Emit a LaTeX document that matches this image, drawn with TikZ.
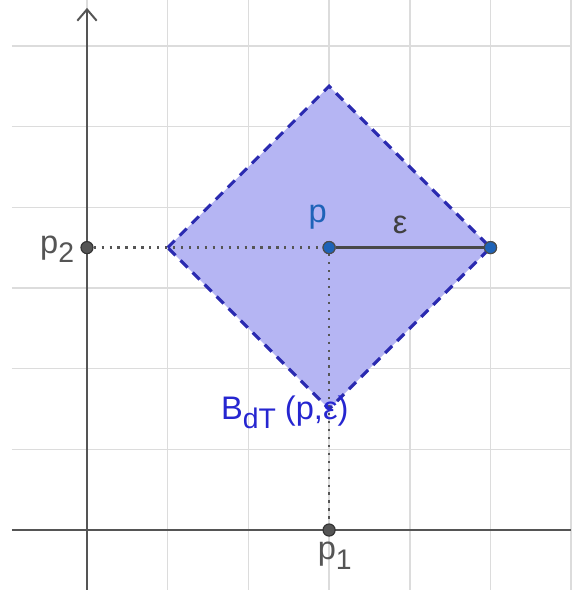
\documentclass[tikz,border=0pt]{standalone}
\usepackage{fontspec}
\setmainfont{Liberation Sans}
\usepackage{xcolor}
\usepackage{tikz}
\usetikzlibrary{arrows.meta}

\definecolor{gridgray}{HTML}{DCDCDC}
\definecolor{axisgray}{HTML}{555555}
\definecolor{ballfill}{HTML}{B5B5F3}
\definecolor{balledge}{HTML}{2A2AB0}
\definecolor{ptblue}{HTML}{1E63B8}
\definecolor{labblue}{HTML}{2626D0}

\newcommand{\lowsub}[1]{\raisebox{-0.55ex}{\fontsize{10}{11}\selectfont #1}}

\begin{document}
\begin{tikzpicture}[
  gridline/.style={gridgray, line width=0.5pt},
  axis/.style={axisgray, line width=0.7pt},
  pt/.style={circle, draw=black!80, fill=axisgray, inner sep=0pt, minimum size=1.5mm},
  bluept/.style={circle, draw=black!70, fill=ptblue, inner sep=0pt, minimum size=1.5mm},
  lab/.style={font=\fontsize{11.5}{13}\selectfont, text=axisgray, inner sep=1pt},
  guide/.style={axisgray, dotted, line width=0.8pt}
]
\useasboundingbox (-1.078,-0.743) rectangle (5.998,6.568);

% grid and axes
\draw[gridline, step=1] (-0.93,-0.743) grid (6.0,6.568);
\draw[axis] (-0.93,0) -- (6.0,0);
\draw[axis, -{Straight Barb[length=1.4mm, width=2.4mm]}] (0,-0.743) -- (0,6.47);

% the ball
\fill[ballfill] (1,3.5) -- (3,5.5) -- (5,3.5) -- (3,1.5) -- cycle;

\node[pt] (p1) at (3,0) {};
\node[pt] (p2) at (0,3.5) {};
\node[bluept] (p) at (3,3.5) {};
\node[bluept] (q) at (5,3.5) {};

\draw[guide] (p2) -- (p);
\draw[guide] (p) -- (p1);

\draw[balledge, dashed, line width=1.1pt, dash pattern=on 3.5pt off 2.5pt]
  (1,3.5) -- (3,5.5) -- (5,3.5) -- (3,1.5) -- cycle;

\draw[axisgray!85!black, line width=1.1pt] (p) -- (q);
\node[bluept] at (p) {};
\node[bluept] at (q) {};

\node[lab, text=ptblue] (plab) at (2.86,3.88) {p};
\node[lab, text=black!75] (elab) at (3.88,3.78) {ε};
\node[lab] (p2lab) at (-0.37,3.48) {p\lowsub{2}};
\node[lab] (p1lab) at (3.07,-0.32) {p\lowsub{1}};
\node[lab, text=labblue] (blab) at (2.45,1.46) {B\lowsub{dT} (p,ε)};

\end{tikzpicture}
\end{document}
